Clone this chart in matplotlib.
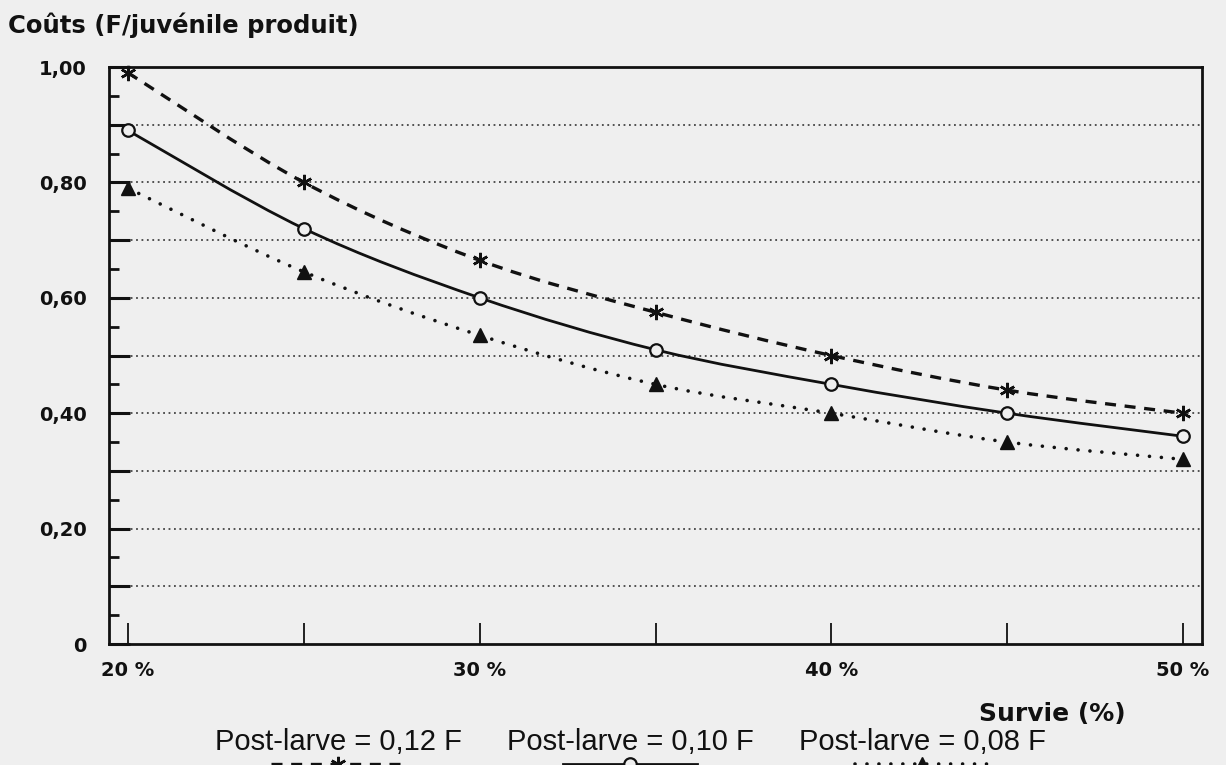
import matplotlib
matplotlib.use("Agg")
import matplotlib.pyplot as plt
from matplotlib.lines import Line2D
from matplotlib.path import Path
from matplotlib.patches import PathPatch

# ---- data ----
survie = [20, 25, 30, 35, 40, 45, 50]
cout_012 = [0.99, 0.80, 0.665, 0.575, 0.50, 0.44, 0.40]
cout_010 = [0.89, 0.72, 0.60, 0.51, 0.45, 0.40, 0.36]
cout_008 = [0.79, 0.645, 0.535, 0.45, 0.40, 0.35, 0.32]
series_labels = ["Post-larve = 0,12 F", "Post-larve = 0,10 F", "Post-larve = 0,08 F"]
x_tick_vals = [20, 30, 40, 50]
x_tick_labels = ["20 %", "30 %", "40 %", "50 %"]
y_tick_vals = [0, 0.2, 0.4, 0.6, 0.8, 1.0]
y_tick_labels = ["0", "0,20", "0,40", "0,60", "0,80", "1,00"]
title = "Coûts (F/juvénile produit)"
xlabel = "Survie (%)"

BG = "#efefef"
INK = "#111111"
W, H = 1226, 765


def smooth_path(xs, ys):
    """Cubic Bezier path through the data points (Catmull-Rom tangents)."""
    pts = list(zip(xs, ys))
    n = len(pts)
    verts = [pts[0]]
    codes = [Path.MOVETO]
    for i in range(n - 1):
        p0 = pts[max(i - 1, 0)]
        p1 = pts[i]
        p2 = pts[i + 1]
        p3 = pts[min(i + 2, n - 1)]
        c1 = (p1[0] + (p2[0] - p0[0]) / 6, p1[1] + (p2[1] - p0[1]) / 6)
        c2 = (p2[0] - (p3[0] - p1[0]) / 6, p2[1] - (p3[1] - p1[1]) / 6)
        verts += [c1, c2, p2]
        codes += [Path.CURVE4] * 3
    return Path(verts, codes)


fig = plt.figure(figsize=(W / 100, H / 100), dpi=100, facecolor=BG)
ax = fig.add_axes([109 / W, (H - 644) / H, (1202 - 109) / W, (644 - 67) / H])
ax.set_facecolor(BG)
ax.set_xlim(19.46, 50.54)
ax.set_ylim(0, 1.0)

# grid
for g in [0.1 * i for i in range(1, 10)]:
    ax.axhline(g, color="#444444", lw=1.3, ls=(0, (1, 2)), zorder=1)

styles = [
    dict(ls=(0, (3.3, 2.6)), lw=2.4, cap="butt", marker=(6, 2, 0), ms=11, mew=1.8,
         mfc=INK, mec=INK),
    dict(ls="-", lw=2.0, cap="butt", marker="o", ms=9, mew=1.6, mfc=BG, mec=INK),
    dict(ls=(0, (0.01, 3.3)), lw=2.6, cap="round", marker="^", ms=10, mew=1,
         mfc=INK, mec=INK),
]
for ys, st in zip([cout_012, cout_010, cout_008], styles):
    patch = PathPatch(smooth_path(survie, ys), transform=ax.transData,
                      facecolor="none", edgecolor=INK, lw=st["lw"],
                      linestyle=st["ls"], capstyle=st["cap"], zorder=3,
                      clip_on=False)
    ax.add_patch(patch)
    ax.plot(survie, ys, ls="none", marker=st["marker"], ms=st["ms"],
            mew=st["mew"], mfc=st["mfc"], mec=st["mec"], zorder=4, clip_on=False)

for s in ax.spines.values():
    s.set_linewidth(2.0)
    s.set_color(INK)

ax.set_xticks(x_tick_vals)
ax.set_xticklabels(x_tick_labels)
ax.set_xticks(survie, minor=True)
major_y = [0.1 * i for i in range(11)]
ax.set_yticks(major_y)
ax.set_yticklabels([y_tick_labels[i // 2] if i % 2 == 0 else "" for i in range(11)])
ax.set_yticks([0.05 + 0.1 * i for i in range(10)], minor=True)

ax.tick_params(axis="x", which="both", direction="in", length=15, width=1.3,
               pad=12, colors=INK)
ax.tick_params(axis="y", which="major", direction="in", length=15, width=2.2,
               pad=16, colors=INK)
ax.tick_params(axis="y", which="minor", direction="in", length=7, width=2.0,
               colors=INK)
for lab in ax.get_xticklabels() + ax.get_yticklabels():
    lab.set_fontfamily("DejaVu Sans")
    lab.set_fontweight("bold")
    lab.set_fontsize(14)

fig.text(8 / W, 1 - 33 / H, title, fontsize=17.5, fontweight="bold",
         family="DejaVu Sans", va="baseline", ha="left", color=INK)
fig.text(1052 / W, 1 - 714 / H, xlabel, fontsize=18, fontweight="bold",
         family="DejaVu Sans", va="center", ha="center", color=INK)

# legend (labels with line samples beneath)
centers = [338, 630, 922]
for cx, lab, st in zip(centers, series_labels, styles):
    fig.text(cx / W, 1 - 742 / H, lab, fontsize=21, family="Liberation Sans",
             ha="center", va="center", color=INK)
    fig.add_artist(Line2D([(cx - 67) / W, (cx + 67) / W], [1 - 764 / H] * 2,
                          transform=fig.transFigure, color=INK, lw=st["lw"],
                          ls=st["ls"], dash_capstyle=st["cap"]))
    fig.add_artist(Line2D([cx / W], [1 - 764 / H], transform=fig.transFigure,
                          color=INK, ls="none", marker=st["marker"], ms=st["ms"],
                          mew=st["mew"], mfc=st["mfc"], mec=st["mec"]))

fig.savefig("out.png", dpi=100, facecolor=BG)
